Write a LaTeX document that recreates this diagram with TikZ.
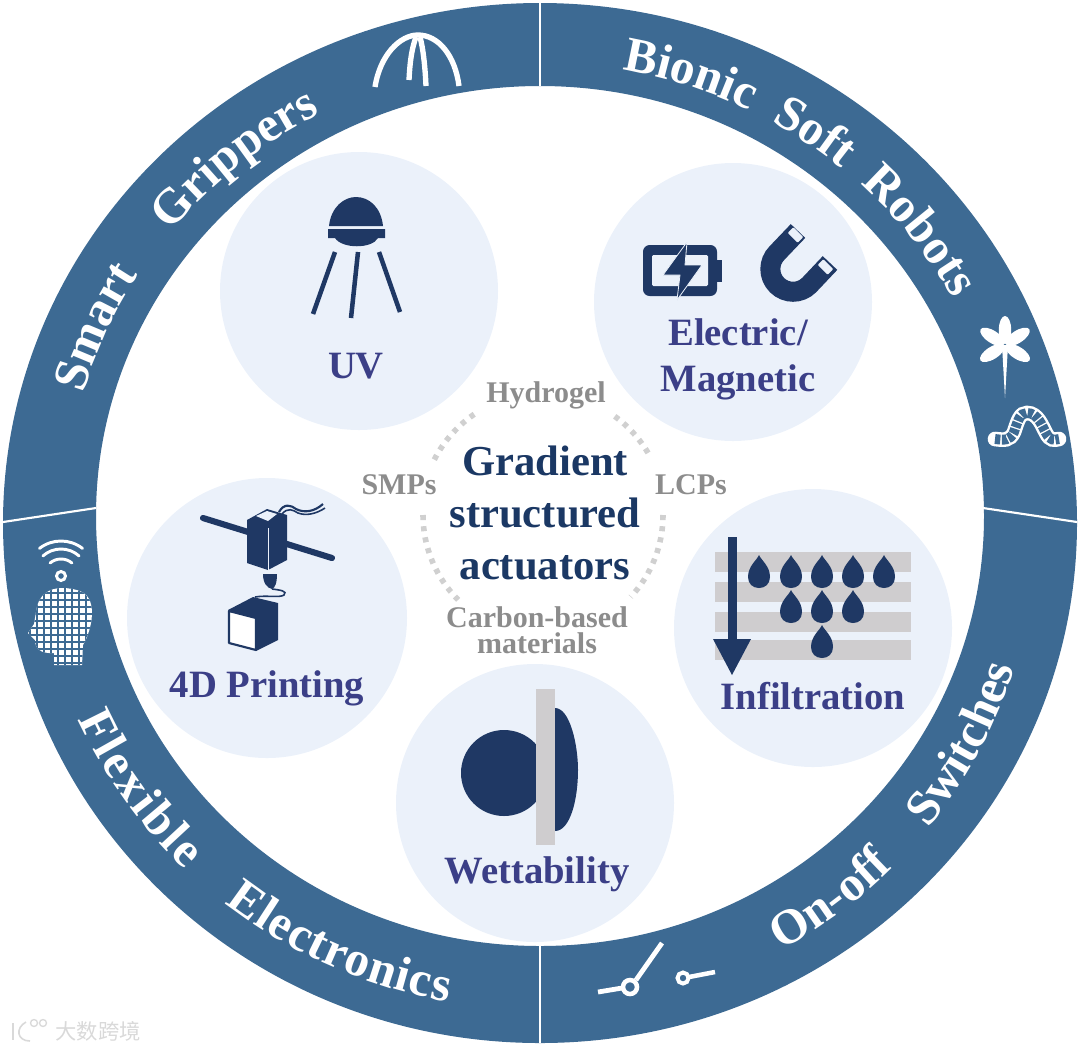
\documentclass[tikz,border=0pt]{standalone}
\usepackage{fontspec}
\setmainfont{Liberation Serif}
\newfontfamily\cjkfont{Noto Sans CJK SC}
\usepackage{tikz}
\usetikzlibrary{decorations.text}
\definecolor{ringblue}{HTML}{3D6A93}
\definecolor{iconblue}{HTML}{1F3864}
\definecolor{labelblue}{HTML}{3B3F87}
\definecolor{titleblue}{HTML}{1B3864}
\definecolor{discblue}{HTML}{EBF1FA}
\definecolor{bargray}{HTML}{CFCDCF}
\definecolor{dotgray}{HTML}{D0D0D0}
\definecolor{textgray}{HTML}{8C8C8C}
\newcommand{\ringfont}{\bfseries\fontsize{37}{37}\selectfont\color{white}}
\newcommand{\waterdrop}[2]{\fill[iconblue] (#1,#2) .. controls (#1-2,#2+5) and (#1-11,#2+11) .. (#1-11,#2+22) .. controls (#1-11,#2+29) and (#1-6,#2+33) .. (#1,#2+33) .. controls (#1+6,#2+33) and (#1+11,#2+29) .. (#1+11,#2+22) .. controls (#1+11,#2+11) and (#1+2,#2+5) .. (#1,#2) -- cycle;}

\begin{document}
\begin{tikzpicture}[
    x=0.75pt, y=0.75pt, yscale=-1,
    disc/.style={fill=discblue},
    divider/.style={draw=white, line width=1.6pt},
    ringtext/.style={decorate},
    methodlabel/.style={font=\bfseries\fontsize{29}{34.5}\selectfont, text=labelblue, align=center, inner sep=0pt},
    titlelabel/.style={font=\bfseries\fontsize{32}{39}\selectfont, text=titleblue, align=center, inner sep=0pt},
    matlabel/.style={font=\bfseries\fontsize{22.5}{19.5}\selectfont, text=textgray, align=center, inner sep=0pt},
    dotarc/.style={draw=dotgray, line width=4.2pt, dash pattern=on 3.8pt off 4.6pt},
    whiteicon/.style={draw=white, line width=4pt},
  ]
  \useasboundingbox (0,0) rectangle (1080,1051);

  % Outer ring
  \fill[ringblue, even odd rule] (540,523) ellipse [x radius=537, y radius=520]
    (540,516) ellipse [x radius=444, y radius=430];
  \draw[divider] (540,3) -- (540,86);
  \draw[divider] (540,945) -- (540,1043);
  \draw[divider] (3,522) -- (96,508);
  \draw[divider] (983,508) -- (1077,522);

  % Ring texts
  \begin{scope}[yscale=-1]
    \path[ringtext, decoration={text along path, text align={fit to path stretching spaces},
      text={|\ringfont|Smart Grippers}}]
      (540,-520) ++(164:475 and 458) arc[start angle=164, end angle=117.5, x radius=475, y radius=458];
    \path[ringtext, decoration={text along path, text align={fit to path stretching spaces},
      text={|\ringfont|Bionic Soft Robots}}]
      (540,-520) ++(80:472 and 457) arc[start angle=80, end angle=29, x radius=472, y radius=457];
    \path[ringtext, decoration={text along path, text align={fit to path},
      text={|\ringfont|Flexible}}]
      (540,-520) ++(204:506 and 490) arc[start angle=204, end angle=225.5, x radius=506, y radius=490];
    \path[ringtext, decoration={text along path, text align={fit to path},
      text={|\ringfont|Electronics}}]
      (540,-520) ++(231.5:506 and 490) arc[start angle=231.5, end angle=259.5, x radius=506, y radius=490];
    \path[ringtext, decoration={text along path, text align={fit to path stretching spaces},
      text={|\ringfont|On-off Switches}}]
      (540,-520) ++(299:498 and 492) arc[start angle=299, end angle=342.5, x radius=498, y radius=492];
  \end{scope}

  % Discs
  \fill[disc] (359,291) circle (139);
  \fill[disc] (733,302) circle (139);
  \fill[disc] (267,618) circle (140);
  \fill[disc] (813,628) circle (139);
  \fill[disc] (535,803) circle (139);

  % Dotted ring
  \draw[dotarc] (543,515) ++(207:122) arc[start angle=207, end angle=237, radius=122];
  \draw[dotarc] (543,515) ++(306:122) arc[start angle=306, end angle=332, radius=122];
  \draw[dotarc] (543,515) ++(0:120) arc[start angle=0, end angle=43, radius=120];
  \draw[dotarc] (543,515) ++(180:120) arc[start angle=180, end angle=135, radius=120];

  % Centre labels
  \node[titlelabel] (title) at (545,513) {Gradient\\structured\\actuators};
  \node[matlabel] (hydrogel) at (546,395) {Hydrogel};
  \node[matlabel] (smps) at (399,485) {SMPs};
  \node[matlabel] (lcps) at (691,485) {LCPs};
  \node[matlabel] (carbon) at (537,630) {Carbon-based\\materials};

  % Method labels
  \node[methodlabel] (uv) at (356,366) {UV};
  \node[methodlabel] (elec) at (738,359) {Electric/\\Magnetic};
  \node[methodlabel] (printing) at (267,688) {4D Printing};
  \node[methodlabel] (infil) at (813,696) {Infiltration};
  \node[methodlabel] (wett) at (537,874) {Wettability};

  % UV lamp
  \fill[iconblue] (329,226) .. controls (331,207) and (344,197) .. (356,197)
    .. controls (369,197) and (381,207) .. (383,226) -- cycle;
  \fill[iconblue] (328,229) -- (385,229) -- (385,238) -- (378,238)
    .. controls (372,249) and (342,249) .. (335,238) -- (328,238) -- cycle;
  \draw[iconblue, line width=3.4pt] (335,252) -- (313,314);
  \draw[iconblue, line width=3.4pt] (358,252) -- (351,318);
  \draw[iconblue, line width=3.4pt] (379,252) -- (400,312);

  % Battery
  \fill[iconblue, rounded corners=5pt] (643,245) rectangle (717,296);
  \fill[iconblue] (717,260) rectangle (722,282);
  \fill[discblue, rounded corners=1pt] (652,255) rectangle (708,286);
  \fill[iconblue, draw=discblue, line width=0.6pt] (687,242) -- (663,275) -- (680,275) -- (677,300)
    -- (702,265) -- (685,265) -- cycle;

  % Magnet
  \draw[iconblue, line width=15pt] (798,231) -- (777,253) arc[start angle=225, end angle=45, radius=22.7]
    -- (830,263);
  \fill[discblue, rotate around={45:(795.5,235)}, rounded corners=0.8pt] (788.5,231) rectangle (802.5,239);
  \fill[discblue, rotate around={45:(825.5,267)}, rounded corners=0.8pt] (818.5,263) rectangle (832.5,271);

  % Printer
  \draw[iconblue, line width=4.6pt, line cap=round] (203,518) -- (332,558);
  \fill[iconblue] (247,520) -- (267,509) -- (287,515) -- (287,560) -- (268,570) -- (247,563) -- cycle;
  \fill[discblue] (256,516) -- (267,511) -- (277,514) -- (268,521) -- cycle;
  \draw[discblue, line width=0.7pt] (268,528) -- (268,570);
  \fill[iconblue] (263,574) -- (277,574) .. controls (277,583) and (275,588) .. (272,589)
    .. controls (267,588) and (263,583) .. (263,574) -- cycle;
  \draw[iconblue, line width=1.2pt] (272,589) .. controls (280,590) and (288,591) .. (284,595)
    .. controls (280,598) and (266,595) .. (255,597);
  \draw[iconblue, line width=1.6pt] (279,512) .. controls (284,503) and (291,505) .. (296,509)
    .. controls (304,513) and (314,512) .. (323,504);
  \draw[iconblue, line width=1.2pt] (282,514) .. controls (288,507) and (293,510) .. (298,513)
    .. controls (306,516) and (316,514) .. (325,508);
  \fill[iconblue] (228,610) -- (253,597) -- (278,603) -- (278,640) -- (256,651) -- (256,618) -- cycle;
  \fill[white, draw=iconblue, line width=1.6pt, line join=round] (229,611) -- (256,618) -- (256,650) -- (229,643) -- cycle;

  % Infiltration
  \foreach \bary in {552,582,612,640}
    \fill[bargray] (715,\bary) rectangle (911,\bary+19.5);
  \fill[iconblue] (728,537) rectangle (737,640);
  \fill[iconblue] (713,639) -- (751,639) -- (732,675) -- cycle;
  \foreach \dropx in {759,791,822,853,884}
    {\waterdrop{\dropx}{555}}
  \foreach \dropx in {791,822,853}
    {\waterdrop{\dropx}{590}}
  \waterdrop{822}{625}

  % Wettability
  \fill[iconblue] (504,773) circle (43);
  \fill[bargray] (536,689) rectangle (555,845);
  \fill[iconblue] (555,708) .. controls (570,708) and (578,745) .. (578,770)
    .. controls (578,800) and (570,831) .. (555,831) -- cycle;

  % Gripper icon
  \draw[whiteicon] (375,87) .. controls (380,55) and (400,35) .. (418,35)
    .. controls (438,35) and (455,55) .. (459,86);
  \draw[whiteicon] (409,80) .. controls (410,60) and (412,48) .. (416,37);
  \draw[whiteicon] (426,86) .. controls (425,65) and (423,48) .. (420,37);

  % Flower icon
  \foreach \petalang in {-90,-33,32,148,213}
    \fill[white, rotate around={\petalang:(1005,345)}] (1020,345) ellipse [x radius=14, y radius=6.2];
  \fill[white] (1002,345) -- (1008,345) -- (1005,398) -- cycle;

  % Worm icon
  \draw[white, line width=11pt, line cap=round] (995,439) .. controls (1004,440) and (1010,441) .. (1014,432)
    .. controls (1018,420) and (1020,413) .. (1027,413) .. controls (1038,413) and (1042,426) .. (1046,433)
    .. controls (1050,441) and (1054,440) .. (1059,439);
  \draw[ringblue, line width=7.4pt, dash pattern=on 4pt off 1.1pt] (995,439) .. controls (1004,440) and (1010,441) .. (1014,432)
    .. controls (1018,420) and (1020,413) .. (1027,413) .. controls (1038,413) and (1042,426) .. (1046,433)
    .. controls (1050,441) and (1054,440) .. (1059,439);

  % Switch icon
  \draw[white, line width=3.6pt] (598,992) -- (622,988);
  \draw[white, line width=3.4pt] (630,987) circle (7);
  \draw[white, line width=3.6pt] (636,980) -- (662,943);
  \draw[white, line width=3pt] (683,978) circle (5.5);
  \draw[white, line width=3.4pt] (689,977) -- (715,972);

  % Wifi and head icon
  \draw[white, line width=2.2pt, line cap=round] (61,576) ++(-128:35) arc[start angle=-128, end angle=-52, radius=35];
  \draw[white, line width=2.2pt, line cap=round] (61,576) ++(-132:27) arc[start angle=-132, end angle=-48, radius=27];
  \draw[white, line width=2.2pt, line cap=round] (61,576) ++(-130:17) arc[start angle=-130, end angle=-50, radius=17];
  \draw[white, line width=2.2pt] (61,576) circle (4.5);
  \begin{scope}
    \clip (62,588) .. controls (50,588) and (38,594) .. (36,612) -- (34,624) -- (28,633) -- (35,640)
      .. controls (35,648) and (40,654) .. (54,653) -- (54,665) -- (82,665) -- (83,645)
      .. controls (92,630) and (98,600) .. (82,592) .. controls (76,589) and (68,588) .. (62,588) -- cycle;
    \fill[white] (20,580) rectangle (100,670);
    \foreach \gridx in {30,37,...,96}
      \draw[ringblue, line width=1.1pt] (\gridx,580) -- (\gridx,670);
    \foreach \gridy in {586,593,...,668}
      \draw[ringblue, line width=1.1pt] (20,\gridy) -- (100,\gridy);
  \end{scope}

  % Watermark
  \node[font=\cjkfont\fontsize{16}{16}\selectfont, text=black!15, inner sep=0pt] (mark) at (98,1031) {大数跨境};
  \draw[black!15, line width=1.2pt] (13,1023) -- (13,1040);
  \draw[black!15, line width=1.2pt] (26,1022) .. controls (15,1028) and (17,1041) .. (30,1041);
  \draw[black!15, line width=1pt] (34,1023) circle (3.5) (43,1023) circle (3.5);
\end{tikzpicture}
\end{document}
